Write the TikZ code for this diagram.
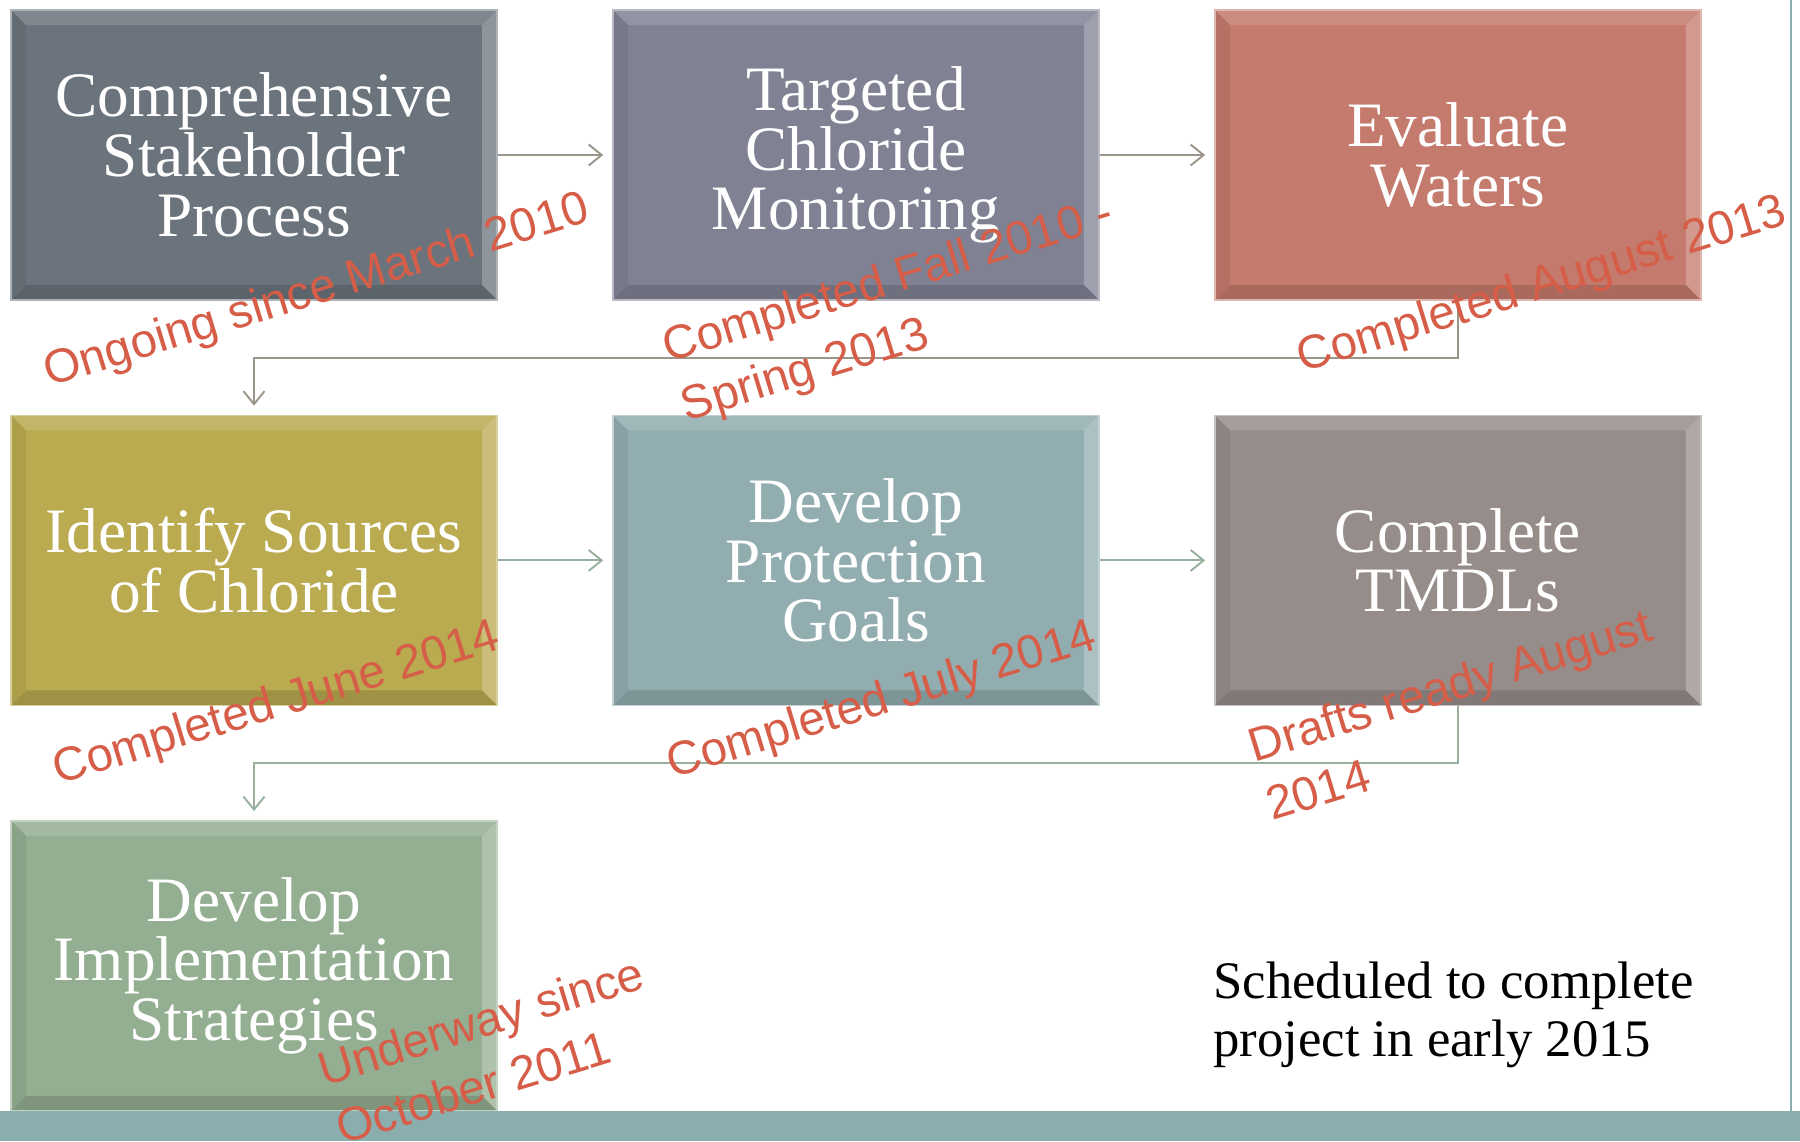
\documentclass[tikz,border=0pt]{standalone}
\usepackage{fontspec}
\newfontfamily\stagefont{Liberation Serif}
\newfontfamily\statusfont{Liberation Sans}
\usetikzlibrary{positioning, calc, arrows.meta}
\definecolor{stakeholder}{HTML}{6B747C}
\definecolor{monitoring}{HTML}{808294}
\definecolor{evaluate}{HTML}{C47A6C}
\definecolor{sources}{HTML}{BAAA50}
\definecolor{goals}{HTML}{92ADB0}
\definecolor{tmdl}{HTML}{968D8A}
\definecolor{strategies}{HTML}{94AE92}
\definecolor{status}{HTML}{D65E48}
\definecolor{linkgray}{HTML}{9C968A}
\definecolor{linkgreen}{HTML}{98B09C}
\definecolor{band}{HTML}{8AADAE}
\newcommand{\bev}{0.3cm}

\begin{document}
\begin{tikzpicture}[
    node distance=2.28cm and 2.29cm,
    stage/.style={
        draw=#1!55!white,
        line width=0.8pt,
        fill=#1,
        text=white,
        align=center,
        minimum width=9.72cm,
        minimum height=5.8cm,
        inner sep=0pt,
        font=\stagefont\fontsize{36}{34}\selectfont,
        path picture={
            \path (path picture bounding box.north west) coordinate (pa)
                  (path picture bounding box.north east) coordinate (pb)
                  (path picture bounding box.south east) coordinate (pc)
                  (path picture bounding box.south west) coordinate (pd)
                  ([shift={(\bev,-\bev)}]pa) coordinate (ia)
                  ([shift={(-\bev,-\bev)}]pb) coordinate (ib)
                  ([shift={(-\bev,\bev)}]pc) coordinate (ic)
                  ([shift={(\bev,\bev)}]pd) coordinate (id);
            \fill[#1!86!white] (pa) -- (pb) -- (ib) -- (ia) -- cycle;
            \fill[#1!76!white] (pb) -- (pc) -- (ic) -- (ib) -- cycle;
            \fill[#1!86!black] (pc) -- (pd) -- (id) -- (ic) -- cycle;
            \fill[#1!93!black] (pd) -- (pa) -- (ia) -- (id) -- cycle;
        }
    },
    link/.style={
        line width=1.1pt,
        shorten >=0.18cm,
        -{Straight Barb[length=0.26cm, width=0.42cm]}
    },
    status/.style={
        text=status,
        font=\statusfont\fontsize{27}{35}\selectfont,
        rotate=17,
        anchor=base west,
        align=left,
        inner sep=0pt
    }
]
\useasboundingbox (0,0) rectangle (36,-22.82);

% Stages, three per row
\node[stage=stakeholder] (S1) at (5.08,-3.1) {Comprehensive\\Stakeholder\\Process};
\node[stage=monitoring, right=of S1] (S2) {Targeted\\Chloride\\Monitoring};
\node[stage=evaluate, right=of S2] (S3) {Evaluate\\Waters};
\node[stage=sources, below=of S1] (S4) {Identify Sources\\of Chloride};
\node[stage=goals, right=of S4] (S5) {Develop\\Protection\\Goals};
\node[stage=tmdl, right=of S5] (S6) {Complete\\TMDLs};
\node[stage=strategies, below=of S4] (S7) {Develop\\Implementation\\Strategies};

% Edges
\draw[link, draw=linkgray] (S1.east) -- (S2.west);
\draw[link, draw=linkgray] (S2.east) -- (S3.west);
\draw[link, draw=linkgray] (S3.south) -- ++(0,-1.14) -| (S4.north);
\draw[link, draw=linkgreen] (S4.east) -- (S5.west);
\draw[link, draw=linkgreen] (S5.east) -- (S6.west);
\draw[link, draw=linkgreen] (S6.south) -- ++(0,-1.14) -| (S7.north);

% Footer band and right rule
\fill[band] (0,-22.22) rectangle (36,-22.82);
\draw[band, line width=1.4pt] (35.82,0) -- (35.82,-22.22);

\node[font=\stagefont\fontsize{30}{33}\selectfont, anchor=base west, align=left, inner sep=0pt] (sched) at (24.26,-21.12) {Scheduled to complete\\project in early 2015};

% Status notes (multi-line ones sit on their last line)
\node[status] (N1) at (0.98,-7.74) {Ongoing since March 2010};
\node[status] (N2) at (13.73,-8.43) {Completed Fall 2010 -\\Spring 2013};
\node[status] (N3) at (26.04,-7.46) {Completed August 2013};
\node[status] (N4) at (1.16,-15.7) {Completed June 2014};
\node[status] (N5) at (13.44,-15.58) {Completed July 2014};
\node[status] (N6) at (25.44,-16.42) {Drafts ready August\\2014};
\node[status] (N7) at (6.84,-22.9) {Underway since\\October 2011};

\end{tikzpicture}
\end{document}
